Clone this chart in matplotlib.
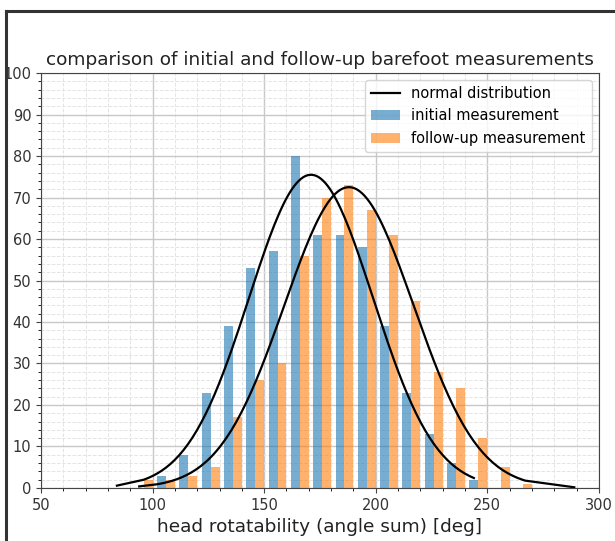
import numpy as np
import matplotlib
matplotlib.use('Agg')
import matplotlib.pyplot as plt
from matplotlib.ticker import MultipleLocator
from matplotlib.lines import Line2D

# histogram bins (width 10) and counts
bin_edges = np.arange(91, 281, 10)
bin_centers = bin_edges[:-1] + 5
initial_counts = [0, 3, 8, 23, 39, 53, 57, 80, 61, 61, 58, 39, 23, 13, 6, 2, 0, 0]
followup_counts = [2, 2, 3, 5, 17, 26, 30, 56, 70, 73, 67, 61, 45, 28, 24, 12, 5, 1]

# fitted normal distributions (mean, std) and the span each curve covers
initial_mu, initial_sigma = 171.0, 27.8
followup_mu, followup_sigma = 188.0, 29.0
initial_range = [84, 244]
followup_range = [94, 267, 289]

bin_width = 10


def normal_curve(x, mu, sigma, n):
    return n * bin_width / (sigma * np.sqrt(2 * np.pi)) * np.exp(-0.5 * ((x - mu) / sigma) ** 2)


fig = plt.figure(figsize=(6.15, 5.41), dpi=100)
ax = fig.add_axes([0.0667, 0.098, 0.907, 0.767])

ax.hist([bin_centers, bin_centers], bins=bin_edges,
        weights=[initial_counts, followup_counts],
        color=['#1f77b4', '#ff7f0e'], alpha=0.6,
        label=['initial measurement', 'follow-up measurement'])

x_init = np.concatenate([[initial_range[0]], np.linspace(96, initial_range[1], 150)])
ax.plot(x_init, normal_curve(x_init, initial_mu, initial_sigma, sum(initial_counts)),
        color='black', lw=1.6, label='normal distribution')
x_fol = np.concatenate([[followup_range[0]], np.linspace(102, followup_range[1], 150), [followup_range[2]]])
ax.plot(x_fol, normal_curve(x_fol, followup_mu, followup_sigma, sum(followup_counts)),
        color='black', lw=1.6)

ax.set_xlim(50, 300)
ax.set_ylim(0, 100)
ax.xaxis.set_major_locator(MultipleLocator(50))
ax.xaxis.set_minor_locator(MultipleLocator(10))
ax.yaxis.set_major_locator(MultipleLocator(10))
ax.yaxis.set_minor_locator(MultipleLocator(2))
ax.grid(which='major', color='#c8c8c8', lw=1.0)
ax.grid(which='minor', color='#e4e4e4', lw=0.7, ls='--')
ax.set_axisbelow(True)
ax.tick_params(labelsize=10.5, labelcolor='#333333', color='#444444')
for s in ax.spines.values():
    s.set_color('#444444')

ax.set_title('comparison of initial and follow-up barefoot measurements', fontsize=13.3, color='#222222')
ax.set_xlabel('head rotatability (angle sum) [deg]', fontsize=13.3, color='#222222')

handles, labels = ax.get_legend_handles_labels()
order = [labels.index('normal distribution'), labels.index('initial measurement'),
         labels.index('follow-up measurement')]
ax.legend([handles[i] for i in order], [labels[i] for i in order], loc='upper right', fontsize=10.5)

# screenshot frame on the left and top edges
fig.add_artist(Line2D([6 / 615, 6 / 615], [0, 530 / 541], color='#333333', lw=2.2))
fig.add_artist(Line2D([6 / 615, 1], [530 / 541, 530 / 541], color='#333333', lw=2.2))

fig.savefig('out.png', dpi=100)
